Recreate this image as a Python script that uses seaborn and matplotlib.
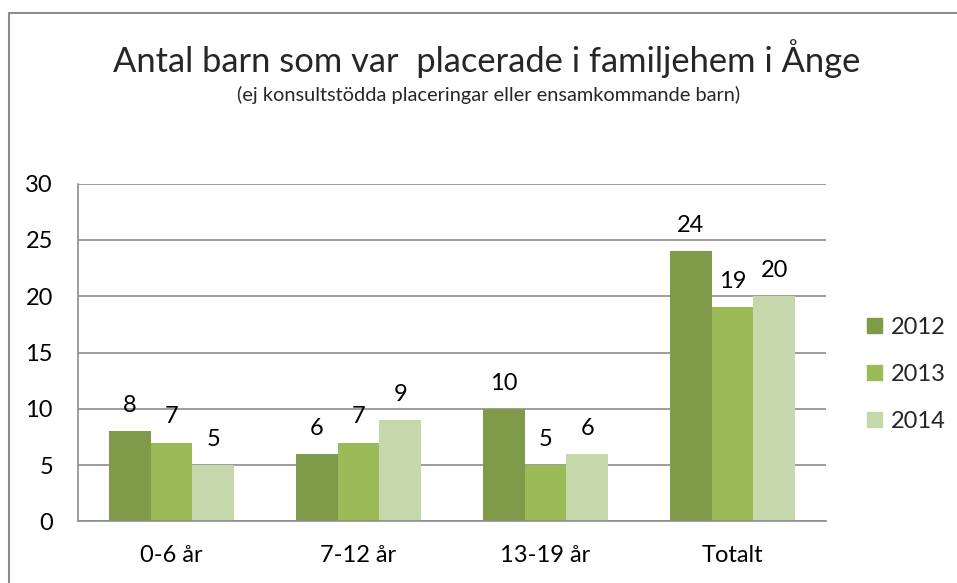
import matplotlib
matplotlib.use('Agg')

import pandas as pd
import matplotlib.pyplot as plt
import matplotlib.patches as mpatches
import seaborn as sns

# --- data ---
categories = ['0-6 år', '7-12 år', '13-19 år', 'Totalt']
years = ['2012', '2013', '2014']
values_2012 = [8, 6, 10, 24]
values_2013 = [7, 7, 5, 19]
values_2014 = [5, 9, 6, 20]
y_ticks = [0, 5, 10, 15, 20, 25, 30]

colors = ['#7F9B4A', '#9BBB59', '#C6D7AB']

df = pd.DataFrame({
    'grupp': categories * 3,
    'år': [y for y in years for _ in categories],
    'antal': values_2012 + values_2013 + values_2014,
})

sns.set_theme(style='white')
plt.rcParams['font.family'] = ['Lato', 'DejaVu Sans']

fig = plt.figure(figsize=(9.57, 5.83), dpi=100)
ax = fig.add_axes([0.0815, 0.1055, 0.7815, 0.5797])

sns.barplot(data=df, x='grupp', y='antal', hue='år', palette=colors,
            width=0.67, gap=0, saturation=1, ax=ax, legend=False,
            linewidth=0, edgecolor='none')

for cont in ax.containers:
    ax.bar_label(cont, padding=11, fontsize=17, color='black')

ax.set_ylim(0, 30)
ax.set_yticks(y_ticks)
ax.set_xlim(-0.5, len(categories) - 0.5)
ax.grid(axis='y', color='#8c8c8c', linewidth=1.2)
ax.set_axisbelow(True)
for side in ['top', 'right']:
    ax.spines[side].set_visible(False)
for side in ['left', 'bottom']:
    ax.spines[side].set_color('#8c8c8c')
    ax.spines[side].set_linewidth(1.2)
ax.tick_params(axis='both', labelsize=17, colors='black', length=0)
ax.tick_params(axis='y', pad=18)
ax.tick_params(axis='x', pad=17)
ax.set_xlabel('')
ax.set_ylabel('')

handles = [mpatches.Patch(color=c, label=y) for c, y in zip(colors, years)]
fig.legend(handles=handles, loc='center left', bbox_to_anchor=(0.884, 0.358),
           frameon=False, fontsize=17, handlelength=0.62, handleheight=0.62,
           handletextpad=0.4, labelspacing=1.1)

fig.text(0.509, 0.9, 'Antal barn som var  placerade i familjehem i Ånge',
         ha='center', va='center', fontsize=24.8)
fig.text(0.511, 0.837, '(ej konsultstödda placeringar eller ensamkommande barn)',
         ha='center', va='center', fontsize=14.4)

# chart area border
fig.patches.append(mpatches.Rectangle((9 / 957, -0.05), 1.2, 1.05 - 13 / 583,
                                      transform=fig.transFigure, fill=False,
                                      edgecolor='#8c8c8c', linewidth=1.5))

fig.savefig('out.png', dpi=100)
